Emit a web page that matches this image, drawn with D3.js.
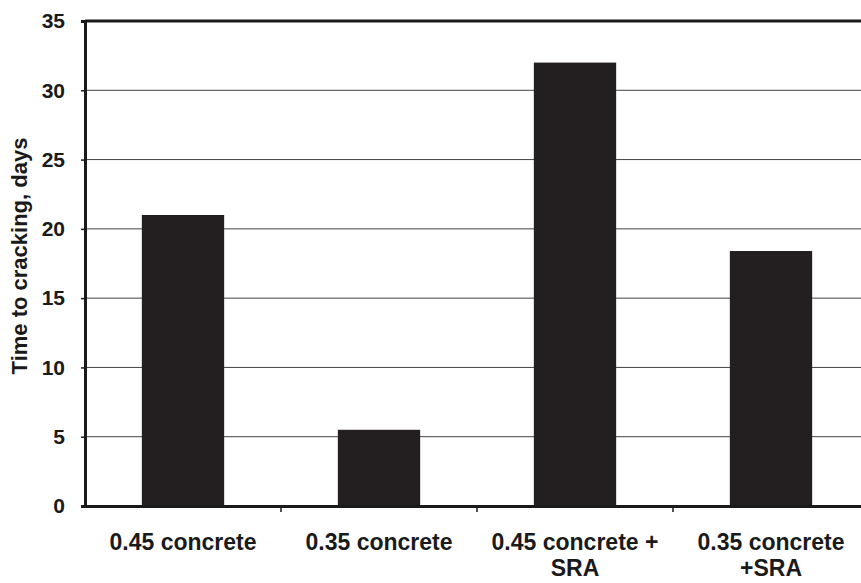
<!DOCTYPE html>
<html><head><meta charset="utf-8">
<script src="https://cdn.jsdelivr.net/npm/d3@7"></script>
<style>body{margin:0;background:#fff}svg{display:block}text{font-family:Arial,"Liberation Sans",sans-serif;font-weight:bold;fill:#1a1a1a}</style>
</head><body>
<svg id="c" width="861" height="583"></svg>
<script>
const categories = [["0.45 concrete"], ["0.35 concrete"], ["0.45 concrete +", "SRA"], ["0.35 concrete", "+SRA"]];
const values = [21, 5.5, 32, 18.4];
const yTicks = [0, 5, 10, 15, 20, 25, 30, 35];
const yTitle = "Time to cracking, days";

const svg = d3.select("#c");
const mLeft = 85, mTop = 21, mBottom = 506, mRight = 869;
const x = d3.scaleBand().domain(d3.range(categories.length)).range([mLeft, mRight]).paddingInner(0.58).paddingOuter(0.29);
const xb = d3.scaleBand().domain(d3.range(categories.length)).range([mLeft, mRight]);
const y = d3.scaleLinear().domain([0, 35]).range([mBottom, mTop]);

// gridlines
svg.append("g").selectAll("line").data(yTicks.filter(t => t > 0 && t < 35)).join("line")
  .attr("x1", mLeft).attr("x2", 861).attr("y1", d => y(d)).attr("y2", d => y(d))
  .attr("stroke", "#444").attr("stroke-width", 1);

// bars
svg.append("g").selectAll("rect").data(values).join("rect")
  .attr("x", (d, i) => x(i)).attr("width", x.bandwidth())
  .attr("y", d => y(d)).attr("height", d => mBottom - y(d))
  .attr("fill", "#231f20");

// top border
svg.append("line").attr("x1", mLeft).attr("x2", 861).attr("y1", y(35)).attr("y2", y(35)).attr("stroke", "#1a1a1a").attr("stroke-width", 3);

// y axis
const ya = svg.append("g").attr("transform", `translate(${mLeft},0)`)
  .call(d3.axisLeft(y).tickValues(yTicks).tickSize(4).tickPadding(16).tickFormat(d3.format("d")));
ya.select(".domain").attr("stroke", "#1a1a1a").attr("stroke-width", 3);
ya.selectAll(".tick line").attr("stroke", "#1a1a1a").attr("stroke-width", 1.5);
ya.selectAll(".tick text").attr("font-size", 21).attr("font-weight", "bold").attr("fill", "#1a1a1a").attr("font-family", "Arial, Liberation Sans, sans-serif");

// x axis
const xa = svg.append("g").attr("transform", `translate(0,${mBottom})`)
  .call(d3.axisBottom(xb).tickSize(0).tickFormat(""));
xa.select(".domain").attr("stroke", "#1a1a1a").attr("stroke-width", 3);
svg.append("g").selectAll("line").data(d3.range(1, categories.length)).join("line")
  .attr("x1", d => xb(d)).attr("x2", d => xb(d)).attr("y1", mBottom).attr("y2", mBottom + 6)
  .attr("stroke", "#1a1a1a").attr("stroke-width", 1.5);

// x labels
const lbl = svg.append("g").selectAll("text").data(categories).join("text")
  .attr("x", (d, i) => x(i) + x.bandwidth() / 2).attr("y", 550)
  .attr("text-anchor", "middle").attr("font-size", 23);
lbl.selectAll("tspan").data(d => d).join("tspan")
  .attr("x", function () { return d3.select(this.parentNode).attr("x"); })
  .attr("dy", (d, i) => i === 0 ? 0 : 26).text(d => d);

// y title
svg.append("text").attr("transform", `translate(27,256) rotate(-90)`)
  .attr("text-anchor", "middle").attr("font-size", 22).text(yTitle);
</script>
</body></html>
